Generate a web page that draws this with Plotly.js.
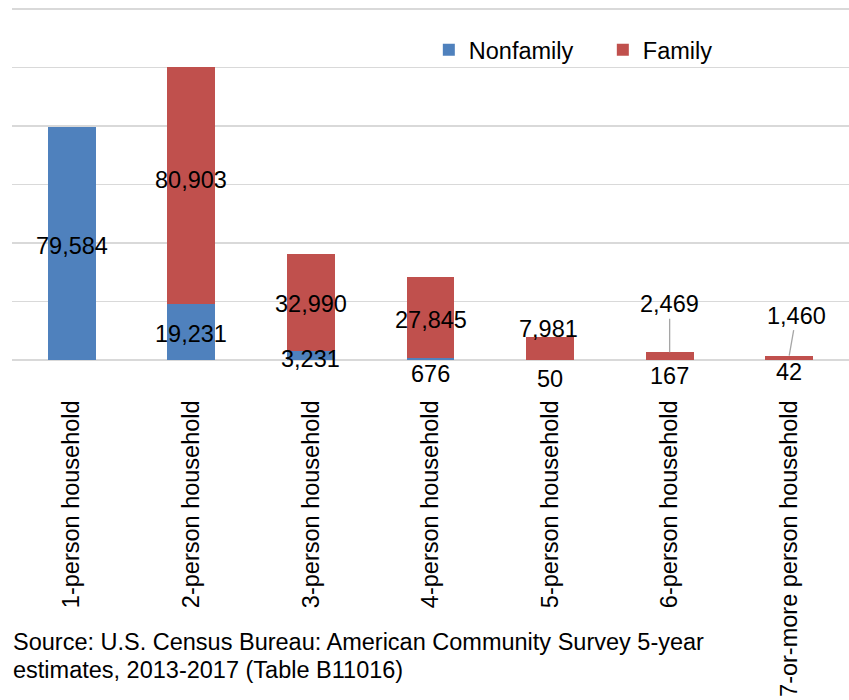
<!DOCTYPE html>
<html><head><meta charset="utf-8">
<script src="https://cdn.plot.ly/plotly-3.0.1.min.js"></script>
<style>html,body{margin:0;padding:0;background:#fff}</style>
</head><body><div id="chart" style="width:849px;height:700px"></div>
<script>
// ---- data ----
const categories = ['1-person household','2-person household','3-person household','4-person household','5-person household','6-person household','7-or-more person household'];
const nonfamily = [79584, 19231, 3231, 676, 50, 167, 42];
const family = [null, 80903, 32990, 27845, 7981, 2469, 1460];
const seriesNames = ['Nonfamily', 'Family'];
const sourceLines = ['Source: U.S. Census Bureau: American Community Survey 5-year', 'estimates, 2013-2017 (Table B11016)'];

// ---- label placement styles (pixels) ----
const nfShift = [-2, -2, -4, -15, -19, -16, -12];
const famMode = [null, 'center', 'center', 'center', 'above', 'leader', 'leader'];
const famShift = [0, 5, -1.5, -3, 8, 0, 0];
const famLeader = [null, null, null, null, null, [0, -48], [7, -40]];

const FONT = 'Liberation Sans, Arial, sans-serif';
const FS = 23.5;
const fmt = v => v.toLocaleString('en-US');

const traces = [
  {type:'bar', name: seriesNames[0], x: categories, y: nonfamily, marker:{color:'#4f81bd'}, hoverinfo:'skip'},
  {type:'bar', name: seriesNames[1], x: categories, y: family, marker:{color:'#c0504d'}, hoverinfo:'skip'}
];

const annotations = [];
categories.forEach((c, i) => {
  annotations.push({x: c, y: nonfamily[i] / 2, xref:'x', yref:'y', text: fmt(nonfamily[i]),
    showarrow:false, yshift: nfShift[i], font:{family:FONT, size:FS, color:'#000'}});
  if (family[i] == null) return;
  const mode = famMode[i];
  if (mode === 'center') {
    annotations.push({x: c, y: nonfamily[i] + family[i] / 2, xref:'x', yref:'y', text: fmt(family[i]),
      showarrow:false, yshift: famShift[i], font:{family:FONT, size:FS, color:'#000'}});
  } else if (mode === 'above') {
    annotations.push({x: c, y: nonfamily[i] + family[i], xref:'x', yref:'y', text: fmt(family[i]),
      showarrow:false, yshift: famShift[i], xshift:-2, font:{family:FONT, size:FS, color:'#000'}});
  } else if (mode === 'leader') {
    annotations.push({x: c, y: nonfamily[i] + family[i], xref:'x', yref:'y', text: fmt(family[i]),
      showarrow:true, arrowhead:0, arrowwidth:1.3, arrowcolor:'#a6a6a6', standoff:0,
      ax: famLeader[i][0], ay: famLeader[i][1], font:{family:FONT, size:FS, color:'#000'}});
  }
});
sourceLines.forEach((t, k) => {
  annotations.push({x: -0.001, y: 0, xref:'paper', yref:'paper', xanchor:'left', yanchor:'middle',
    yshift: -282 - 28 * k, text: t, showarrow:false, align:'left',
    font:{family:FONT, size:FS, color:'#000'}});
});

const layout = {
  width: 849, height: 700,
  margin: {l:12, r:0, t:6, b:340, pad:0},
  paper_bgcolor:'#fff', plot_bgcolor:'#fff',
  barmode:'stack', bargap:0.6,
  font:{family:FONT, size:FS, color:'#000'},
  showlegend:true,
  legend:{orientation:'h', x:0.498, xanchor:'left', y:0.876, yanchor:'middle',
    font:{family:FONT, size:FS, color:'#000'}, entrywidth:129, bgcolor:'rgba(0,0,0,0)', traceorder:'normal'},
  xaxis:{type:'category', tickangle:-90, ticks:'outside', ticklen:30, tickcolor:'rgba(0,0,0,0)',
    showgrid:false, showline:false, zeroline:false, automargin:false,
    tickfont:{family:FONT, size:FS, color:'#000'}},
  yaxis:{range:[0,121000], tickvals:[0,20000,40000,60000,80000,100000,120000], showticklabels:false, showgrid:true, gridcolor:'#d9d9d9', gridwidth:1.3,
    zeroline:true, zerolinecolor:'#d9d9d9', zerolinewidth:1.3, showline:false, ticks:'', fixedrange:true},
  annotations: annotations
};

Plotly.newPlot('chart', traces, layout, {displayModeBar:false, staticPlot:true});
</script>
</body></html>
